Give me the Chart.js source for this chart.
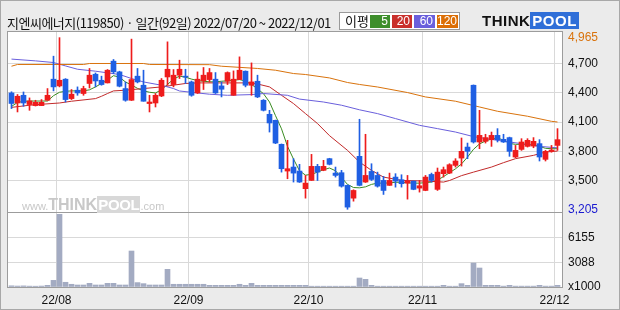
<!DOCTYPE html>
<html>
<head>
<meta charset="utf-8">
<script src="https://cdn.jsdelivr.net/npm/chart.js@4.4.1/dist/chart.umd.min.js"></script>
<style>
html, body { margin: 0; padding: 0; }
body { width: 620px; height: 310px; background: #ebebeb; position: relative; overflow: hidden; font-family: "Liberation Sans", Arial, sans-serif; }
#frame { position: absolute; left: 0; top: 0; width: 618px; height: 308px; border: 1px solid #a8a8a8; }
canvas { position: absolute; left: 0; top: 0; }
.title { position: absolute; left: 7px; top: 13px; font: 13px "Noto Sans CJK KR", sans-serif; color: #111; white-space: nowrap; letter-spacing: -0.5px; }
.legend { position: absolute; left: 339px; top: 12px; width: 119px; height: 16px; border: 1px solid #9a9a9a; background: #fff; }
.legend .lbl { position: absolute; left: 5px; top: 0px; font: 13px "Noto Sans CJK KR", sans-serif; line-height: 16px; color: #111; }
.legend .bx { position: absolute; top: 2px; height: 13px; font: 12px "Liberation Sans", Arial, sans-serif; line-height: 13px; color: #fff; text-align: right; padding-right: 2px; box-sizing: border-box; }
.logo { position: absolute; left: 482px; top: 13px; height: 15px; font: bold 15px "Liberation Sans", Arial, sans-serif; line-height: 15px; white-space: nowrap; }
.logo .a { color: #111; letter-spacing: 0.5px; }
.logo .b { color: #fff; background: #2f6fd8; padding: 0 2px; letter-spacing: 0.5px; }
.wm { position: absolute; left: 22px; top: 196px; white-space: nowrap; font-family: "Liberation Sans", Arial, sans-serif; color: #c8c8c8; pointer-events: none; }
.wm .s { font-size: 11px; }
.wm .t { font-size: 16px; font-weight: bold; }
.wm .p { font-size: 15px; font-weight: bold; color: #fff; background: #d8d8d8; padding: 0 1px; letter-spacing: -0.3px; }
</style>
</head>
<body>
<div id="frame"></div>
<canvas id="chart" width="620" height="310"></canvas>
<div class="title">지엔씨에너지(119850) · 일간(92일) 2022/07/20 ~ 2022/12/01</div>
<div class="legend">
  <span class="lbl">이평</span>
  <span class="bx" style="left:30px;width:20px;background:#3e8e2c">5</span>
  <span class="bx" style="left:52px;width:20px;background:#c9302c">20</span>
  <span class="bx" style="left:74px;width:21px;background:#6a5fdc">60</span>
  <span class="bx" style="left:97px;width:21px;background:#dc6e05">120</span>
</div>
<div class="logo"><span class="a">THINK</span><span class="b">POOL</span></div>
<div class="wm"><span class="s">www.</span><span class="t">THINK</span><span class="p">POOL</span><span class="s">.com</span></div>
<script>
// daily candles, 2022/07/20 ~ 2022/12/01 (92 trading days)
const opens = [4398,4295,4374,4279,4268,4268,4323,4539,4470,4539,4340,4426,4392,4495,4590,4528,4501,4724,4614,4443,
  4323,4570,4477,4289,4295,4367,4562,4484,4580,4570,4511,4398,4521,4535,4539,4470,4518,4374,4535,4621,
  4477,4518,4323,4179,4117,3871,3597,3638,3597,3416,3501,3645,3604,3724,3576,3580,3450,3319,3748,3484,
  3593,3552,3501,3450,3535,3508,3473,3494,3422,3398,3562,3409,3570,3576,3655,3730,3843,4477,3895,3902,
  3919,3963,3922,3940,3741,3819,3850,3853,3878,3717,3800,3860];
const highs = [4410,4382,4408,4347,4323,4330,4443,4775,4965,4545,4433,4460,4467,4649,4603,4570,4638,4741,4621,4511,
  4950,4649,4631,4374,4392,4546,4922,4638,4734,4641,4520,4614,4659,4649,4607,4511,4614,4624,4768,4624,
  4706,4580,4330,4220,4120,3875,3912,3724,3666,3552,3768,3666,3707,3728,3638,3604,3455,3405,4128,3974,
  3672,3586,3542,3576,3570,3559,3552,3494,3501,3552,3576,3628,3638,3672,3724,3936,3884,4480,4220,3974,
  3997,4032,3974,3945,3860,3929,3929,3940,3919,3809,3860,4032];
const lows = [4238,4203,4261,4220,4264,4268,4323,4419,4460,4305,4330,4374,4374,4449,4460,4477,4500,4597,4460,4313,
  4320,4501,4313,4203,4254,4360,4477,4460,4546,4495,4364,4392,4433,4511,4392,4357,4484,4374,4535,4460,
  4374,4350,4213,3997,3878,3586,3518,3484,3480,3319,3500,3500,3600,3660,3535,3432,3205,3288,3445,3480,
  3500,3432,3357,3450,3432,3432,3309,3405,3381,3395,3484,3398,3535,3570,3638,3648,3724,3884,3826,3884,
  3850,3895,3890,3748,3734,3809,3843,3836,3700,3700,3790,3809];
const closes = [4290,4364,4295,4316,4302,4302,4374,4460,4528,4330,4385,4398,4443,4580,4521,4484,4631,4614,4467,4323,
  4535,4511,4313,4305,4374,4528,4641,4580,4641,4560,4374,4539,4580,4607,4398,4436,4607,4539,4631,4477,
  4511,4357,4220,4090,3884,3621,3621,3576,3484,3473,3645,3586,3645,3666,3552,3442,3227,3398,3450,3552,
  3511,3442,3398,3501,3494,3467,3494,3409,3446,3535,3501,3586,3611,3662,3700,3799,3799,3895,3963,3940,
  3963,3919,3895,3799,3809,3895,3912,3902,3741,3799,3812,3919];
// volume in thousands of shares
const volumes = [150,120,140,110,100,120,210,830,9090,590,340,250,250,460,250,250,460,460,250,250,
  4500,550,420,250,250,250,2210,340,340,340,340,340,340,210,210,210,210,210,340,210,
  460,210,210,210,210,210,210,210,210,210,100,100,100,100,100,100,100,100,1125,960,
  210,100,100,100,100,100,100,100,100,100,100,100,210,100,100,420,210,3000,2375,210,
  210,210,110,210,110,110,110,110,210,110,110,210];

// moving averages: [day index, price]
const ma5 = [4260,4300,4312,4315,4315,4315,4315,4370,4405,4415,4419,4419,4419,4430,4460,4495,4530,4575,4560,4510,
  4480,4445,4420,4405,4398,4430,4485,4540,4570,4560,4540,4525,4518,4512,4512,4518,4522,4528,4535,4520,
  4485,4440,4390,4305,4165,4030,3850,3720,3600,3555,3563,3586,3611,3628,3600,3530,3460,3428,3425,3435,
  3460,3473,3473,3475,3482,3482,3476,3473,3473,3478,3484,3505,3540,3580,3620,3670,3740,3820,3875,3905,
  3925,3935,3915,3880,3871,3871,3871,3865,3850,3830,3826,3826];
const ma20 = [[0,4250],[3,4272],[5,4282],[8,4295],[10,4313],[14,4340],[15,4364],[16,4392],[17,4419],[19,4426],
  [22,4443],[25,4460],[29,4495],[31,4501],[40,4501],[41,4490],[43,4460],[45,4374],[47,4289],[49,4186],
  [51,4084],[53,3960],[56,3809],[58,3689],[60,3604],[62,3535],[65,3501],[69,3494],[72,3484],[73,3500],
  [75,3550],[77,3586],[80,3638],[82,3683],[84,3724],[87,3758],[89,3792],[91,3802]];
const ma60 = [[0,4745],[4,4727],[7,4710],[9,4675],[11,4641],[14,4621],[18,4587],[20,4546],[22,4511],[25,4477],
  [27,4443],[28,4418],[31,4398],[33,4385],[36,4374],[40,4381],[42,4392],[46,4374],[48,4335],[52,4305],
  [55,4272],[58,4225],[61,4186],[64,4135],[68,4066],[71,4032],[74,3997],[77,3950],[81,3912],[85,3878],
  [88,3850],[91,3835]];
const ma120 = [[0,4672],[1,4690],[12,4690],[13,4700],[22,4700],[23,4690],[33,4688],[35,4672],[41,4649],[44,4631],
  [47,4597],[49,4587],[53,4552],[56,4505],[58,4485],[61,4459],[66,4402],[69,4357],[74,4313],[78,4254],
  [81,4210],[86,4159],[90,4107],[91,4100]];

// month starts: 08/01, 09/01, 10/04, 11/01, 12/01
const monthIdx = [8, 30, 50, 69, 91];
const monthLabels = ['22/08', '22/09', '22/10', '22/11', '22/12'];
const priceTicks = [4965, 4700, 4400, 4100, 3800, 3500, 3205];
const volTicks = [6155, 3088, 0];

const UP = '#ee1c1c', DOWN = '#1f5fe3';
const days = closes.map((c, i) => i);
const candleColor = days.map(i => closes[i] >= opens[i] ? UP : DOWN);
const pairs = arr => arr.map(p => ({x: p[0], y: p[1]}));

const frame = {
  id: 'frame',
  beforeDraw(chart) {
    const {ctx, chartArea: a} = chart;
    ctx.save();
    ctx.fillStyle = '#fff';
    ctx.fillRect(a.left, a.top, a.right - a.left, a.bottom - a.top);
    ctx.restore();
  },
  afterDraw(chart) {
    const {ctx, chartArea: a} = chart;
    const sep = Math.round(chart.scales.y.bottom) + 0.5;
    ctx.save();
    ctx.strokeStyle = '#9c9c9c';
    ctx.lineWidth = 1;
    ctx.strokeRect(a.left - 0.5, a.top - 0.5, a.right - a.left + 1, a.bottom - a.top + 1);
    ctx.beginPath();
    ctx.moveTo(a.left, sep);
    ctx.lineTo(a.right, sep);
    ctx.stroke();
    ctx.restore();
  }
};

const maLine = (data, color) => ({
  type: 'line', data: data, yAxisID: 'y', borderColor: color, borderWidth: 1,
  pointRadius: 0, tension: 0, order: 5
});

new Chart(document.getElementById('chart').getContext('2d'), {
  data: {
    datasets: [
      maLine(pairs(ma120), '#d9730d'),
      maLine(pairs(ma60), '#6a5fdc'),
      maLine(pairs(ma20), '#c22a2a'),
      maLine(days.map(i => ({x: i, y: ma5[i]})), '#3a8c22'),
      {
        type: 'bar', yAxisID: 'y', order: 2, grouped: false, barThickness: 1,
        data: days.map(i => ({x: i, y: [lows[i], highs[i]]})),
        backgroundColor: candleColor
      },
      {
        type: 'bar', yAxisID: 'y', order: 1, grouped: false, barThickness: 5, minBarLength: 1,
        data: days.map(i => ({x: i, y: [opens[i], closes[i]]})),
        backgroundColor: candleColor
      },
      {
        type: 'bar', yAxisID: 'yv', order: 3, grouped: false, barThickness: 5,
        data: days.map(i => ({x: i, y: volumes[i]})),
        backgroundColor: '#a3abc2'
      }
    ]
  },
  options: {
    responsive: false,
    animation: false,
    layout: {padding: {left: 8, top: 32, right: 0, bottom: 0}},
    plugins: {legend: {display: false}, tooltip: {enabled: false}},
    scales: {
      x: {
        type: 'linear', offset: false, min: -3.5 / 6, max: -3.5 / 6 + 554 / 6,
        afterBuildTicks: s => { s.ticks = monthIdx.map(i => ({value: i - 0.5})); },
        afterFit: s => { s.height = 23; },
        ticks: {
          autoSkip: false, maxRotation: 0, padding: 6, color: '#111',
          font: {family: '"Liberation Sans", Arial, sans-serif', size: 12},
          callback: v => monthLabels[monthIdx.indexOf(v + 0.5)]
        },
        grid: {color: '#d9d9d9', drawTicks: false, offset: false},
        border: {display: false}
      },
      y: {
        type: 'linear', position: 'right', stack: 'panes', stackWeight: 180,
        min: 3177, max: 5023,
        afterBuildTicks: s => { s.ticks = priceTicks.map(v => ({value: v})); },
        afterFit: s => { s.width = 58; },
        ticks: {
          autoSkip: false, padding: 6,
          font: {family: '"Liberation Sans", Arial, sans-serif', size: 12},
          color: c => c.tick.value === 4965 ? '#d9730d' : c.tick.value === 3205 ? '#1a1ad0' : '#111',
          callback: v => v.toLocaleString('en-US')
        },
        grid: {
          drawTicks: false,
          color: c => (c.tick && (c.tick.value === 4965 || c.tick.value === 3205)) ? 'rgba(0,0,0,0)' : '#d9d9d9'
        },
        border: {display: false}
      },
      yv: {
        type: 'linear', position: 'right', stack: 'panes', stackWeight: 75,
        min: 0, max: 9380,
        afterBuildTicks: s => { s.ticks = volTicks.map(v => ({value: v})); },
        afterFit: s => { s.width = 58; },
        ticks: {
          autoSkip: false, padding: 6, color: '#111',
          font: {family: '"Liberation Sans", Arial, sans-serif', size: 12},
          callback: v => v === 0 ? 'x1000' : String(v)
        },
        grid: {
          drawTicks: false,
          color: c => (c.tick && c.tick.value === 0) ? 'rgba(0,0,0,0)' : '#d9d9d9'
        },
        border: {display: false}
      }
    }
  },
  plugins: [frame]
});
</script>
</body>
</html>
